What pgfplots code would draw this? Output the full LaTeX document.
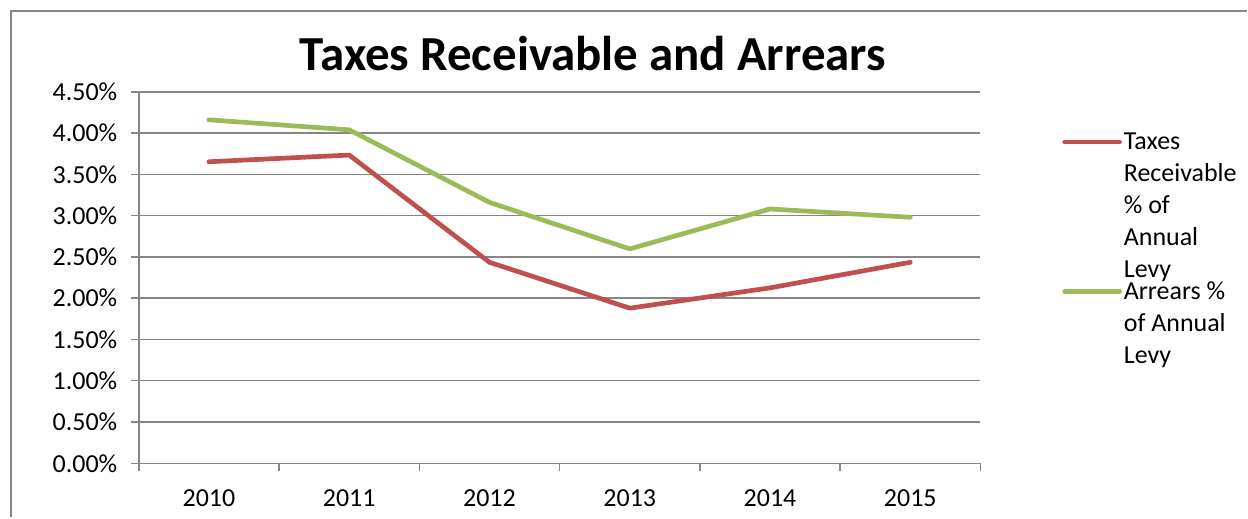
\documentclass[border=0pt]{standalone}
\usepackage{fontspec}
\setmainfont{Carlito}
\usepackage{pgfplots}
\pgfplotsset{compat=1.18}
\definecolor{exred}{HTML}{C0504D}
\definecolor{exgreen}{HTML}{9BBB59}
\definecolor{exgrid}{HTML}{868686}
\begin{document}
\begin{tikzpicture}[x=1pt,y=1pt]
\fill[white] (0,0) rectangle (1248,518);
\draw[exgrid, line width=2pt] (11,0) -- (11,507) -- (1249,507);
\node[anchor=base, inner sep=0pt, font=\fontsize{49}{54}\selectfont\bfseries] at (594,447) {Taxes Receivable and Arrears};
\begin{axis}[
  at={(139pt,54pt)}, anchor=south west,
  scale only axis, width=843pt, height=372pt,
  xmin=-0.5, xmax=5.5, ymin=0, ymax=4.5,
  axis lines*=left,
  axis line style={exgrid, line width=1.5pt},
  every tick/.style={exgrid, line width=1.5pt},
  major tick length=8pt,
  tick align=outside,
  ytick={0,0.5,1,1.5,2,2.5,3,3.5,4,4.5},
  yticklabels={0.00\%,0.50\%,1.00\%,1.50\%,2.00\%,2.50\%,3.00\%,3.50\%,4.00\%,4.50\%},
  ymajorgrids, grid style={exgrid, line width=1.5pt},
  xtick={-0.5,0.5,1.5,2.5,3.5,4.5,5.5},
  xticklabels={},
  extra x ticks={0,1,2,3,4,5},
  extra x tick labels={2010,2011,2012,2013,2014,2015},
  extra x tick style={major tick length=0pt},
  tick label style={font=\fontsize{26}{30}\selectfont},
  yticklabel style={xshift=-10pt},
  xticklabel style={yshift=-23pt},
  legend style={at={(axis description cs:1.097,0.895)}, anchor=north west,
    draw=none, fill=none, inner sep=0pt, row sep=-1pt,
    font=\fontsize{26}{32}\selectfont,
    nodes={align=left, inner sep=2pt}},
  legend cell align=left,
]
\addplot[exred, line width=4.7pt, line cap=round, line join=round,
  legend image code/.code={\draw[exred, line width=4.7pt, line cap=round] (0pt,64pt) -- (55pt,64pt);}] coordinates {
  (0,3.653) (1,3.734) (2,2.435) (3,1.879) (4,2.125) (5,2.435)};
\addlegendentry{Taxes\\Receivable\\\% of\\Annual\\Levy}
\addplot[exgreen, line width=4.7pt, line cap=round, line join=round,
  legend image code/.code={\draw[exgreen, line width=4.7pt, line cap=round] (0pt,32pt) -- (55pt,32pt);}] coordinates {
  (0,4.161) (1,4.040) (2,3.161) (3,2.597) (4,3.081) (5,2.980)};
\addlegendentry{Arrears \%\\of Annual\\Levy}
\end{axis}
\end{tikzpicture}
\end{document}
